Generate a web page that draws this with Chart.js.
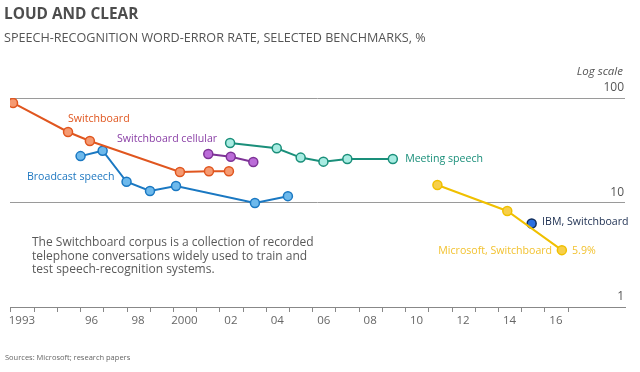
<!DOCTYPE html>
<html><head><meta charset="utf-8">
<script src="https://cdn.jsdelivr.net/npm/chart.js@4"></script>
<style>
html,body{margin:0;padding:0;background:#fff;}
#wrap{position:relative;width:640px;height:372px;overflow:hidden;font-family:"Open Sans",sans-serif;}
#c{position:absolute;left:0;top:0;}
.t{position:absolute;white-space:nowrap;}
#title{left:4px;top:3px;font-weight:700;font-size:15.4px;color:#4d4d4d;}
#sub{left:4px;top:29px;font-size:12.6px;color:#555;}
#logscale{right:17px;top:63px;font-size:11.5px;font-style:italic;color:#555;}
#note{left:32px;top:235px;font-size:12px;line-height:13.5px;color:#595959;}
#src{left:5px;top:352px;font-size:7.5px;color:#666;}
</style></head>
<body><div id="wrap"><canvas id="c" width="640" height="372"></canvas>
<div class="t" id="title">LOUD AND CLEAR</div>
<div class="t" id="sub">SPEECH-RECOGNITION WORD-ERROR RATE, SELECTED BENCHMARKS, %</div>
<div class="t" id="logscale">Log scale</div>
<div class="t" id="note">The Switchboard corpus is a collection of recorded<br>telephone conversations widely used to train and<br>test speech-recognition systems.</div>
<div class="t" id="src">Sources: Microsoft; research papers</div>
</div>
<script>
// ---- data (x = year, y = word-error rate %) ----
const switchboardYears = [1993.09, 1995.46, 1996.40, 2000.28, 2001.53, 2002.39];
const switchboardRates = [89.6, 47.3, 38.8, 19.6, 19.9, 19.9];
const cellularYears = [2001.50, 2002.47, 2003.44];
const cellularRates = [29.1, 27.4, 24.4];
const broadcastYears = [1996.00, 1996.95, 1997.98, 1998.99, 2000.11, 2003.51, 2004.93];
const broadcastRates = [27.8, 31.3, 15.8, 12.9, 14.4, 9.9, 11.5];
const meetingYears = [2002.44, 2004.45, 2005.48, 2006.46, 2007.49, 2009.45];
const meetingRates = [37.1, 33.0, 26.9, 24.6, 26.1, 26.1];
const microsoftYears = [2011.37, 2014.38, 2016.73];
const microsoftRates = [14.7, 8.3, 3.5];
const ibmYears = [2015.43];
const ibmRates = [6.3];

const tickYears = [1993,1994,1995,1996,1997,1998,1999,2000,2001,2002,2003,2004,2005,2006,2007,2008,2009,2010,2011,2012,2013,2014,2015,2016,2017];
const tickLabels = {1993:'1993',1996:'96',1998:'98',2000:'2000',2002:'02',2004:'04',2006:'06',2008:'08',2010:'10',2012:'12',2014:'14',2016:'16'};
const yTicks = [1, 10, 100];

// series labels (text placed in data coordinates)
const seriesLabels = [
  {text:'Switchboard', x:1995.46, y:62.8, color:'#e0561f', align:'left'},
  {text:'Switchboard cellular', x:1997.57, y:40.4, color:'#8a3fa6', align:'left'},
  {text:'Broadcast speech', x:1993.69, y:17.4, color:'#1f78c1', align:'left'},
  {text:'Meeting speech', x:2009.98, y:25.9, color:'#1a8f7a', align:'left'},
  {text:'IBM, Switchboard', x:2015.88, y:6.5, color:'#1c2e50', align:'left'},
  {text:'Microsoft, Switchboard', x:2016.31, y:3.4, color:'#f2c230', align:'right'},
  {text:'5.9%', x:2017.17, y:3.4, color:'#f2c230', align:'left'}
];

const FONT = '"Open Sans", sans-serif';
const pts = (xs, ys) => xs.map((x, i) => ({x, y: ys[i]}));
function series(xs, ys, line, fill, border) {
  return {data: pts(xs, ys), borderColor: line, borderWidth: 2, pointRadius: 4.5,
    pointBorderWidth: 1.5, pointBackgroundColor: fill, pointBorderColor: border || line,
    pointHoverRadius: 4.5, tension: 0, fill: false};
}

const labelPlugin = {
  id: 'seriesLabels',
  afterDatasetsDraw(chart) {
    const ctx = chart.ctx, xs = chart.scales.x, ys = chart.scales.y;
    ctx.save();
    ctx.font = '10.6px ' + FONT;
    ctx.textBaseline = 'middle';
    seriesLabels.forEach(l => {
      ctx.fillStyle = l.color;
      ctx.textAlign = l.align;
      ctx.fillText(l.text, xs.getPixelForValue(l.x), ys.getPixelForValue(l.y));
    });
    ctx.restore();
  }
};

new Chart(document.getElementById('c'), {
  type: 'line',
  data: {datasets: [
    series(switchboardYears, switchboardRates, '#e0561f', '#f59a72'),
    series(cellularYears, cellularRates, '#7e3397', '#bb6cd8'),
    series(broadcastYears, broadcastRates, '#1a78c2', '#6db9ec'),
    series(meetingYears, meetingRates, '#1a8f7a', '#a8ece2'),
    series(microsoftYears, microsoftRates, '#f0c000', '#f7cf4a'),
    series(ibmYears, ibmRates, '#0f2d5c', '#2a6fe0', '#0f2d5c')
  ]},
  options: {
    responsive: false, animation: false, devicePixelRatio: 1,
    layout: {padding: {top: 98, left: 10, right: 15, bottom: 35}},
    plugins: {legend: {display: false}, tooltip: {enabled: false}},
    scales: {
      x: {
        type: 'linear', position: 'bottom', min: 1992.96, max: 2019.45,
        afterBuildTicks: s => { s.ticks = tickYears.map(v => ({value: v})); },
        afterFit: s => { s.height = 30; s.paddingLeft = 0; s.paddingRight = 0; },
        grid: {drawOnChartArea: false, drawTicks: true, tickLength: 5, color: '#888'},
        border: {display: true, color: '#888', width: 1},
        ticks: {autoSkip: false, maxRotation: 0, minRotation: 0, labelOffset: 11, padding: 2,
          color: '#666', font: {family: FONT, size: 11.5},
          callback: v => tickLabels[v] || ''}
      },
      y: {
        type: 'logarithmic', position: 'right', min: 1, max: 100,
        afterBuildTicks: s => { s.ticks = yTicks.map(v => ({value: v})); },
        afterFit: s => { s.width = 0; },
        grid: {drawTicks: false, color: '#9a9a9a', lineWidth: 1},
        border: {display: false},
        ticks: {mirror: true, padding: -1, labelOffset: -10, crossAlign: 'near',
          color: '#555', font: {family: FONT, size: 12},
          callback: v => String(v)}
      }
    }
  },
  plugins: [labelPlugin]
});
</script>
</body></html>
